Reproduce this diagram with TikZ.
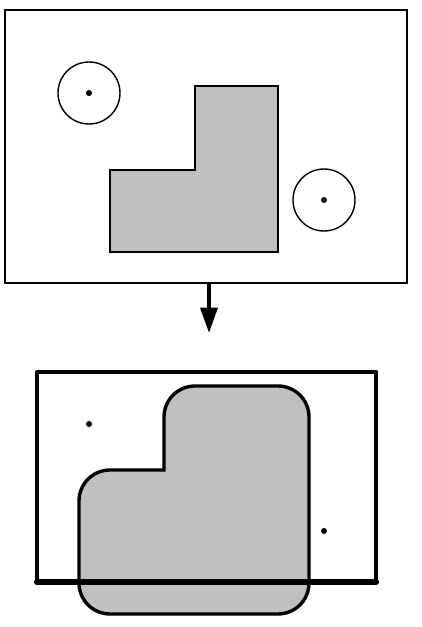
\documentclass[tikz,border=0pt]{standalone}
\usetikzlibrary{arrows.meta}
\definecolor{obst}{RGB}{192,192,192}
\begin{document}
\begin{tikzpicture}[x=0.025cm,y=0.025cm,
	dot/.style={fill=black},
	ring/.style={draw,line width=1pt},
	obstacle/.style={fill=obst,draw=black}]
				\useasboundingbox (0,0) rectangle (422,627);
				\draw[line width=1pt] (5,344) rectangle (407,617);
				\coordinate (ws) at (209,344);
				\coordinate (cs) at (209,294);
				\draw[obstacle,line width=1pt] (110,375) -- (278,375) -- (278,541) -- (195,541) -- (195,457) -- (110,457) -- cycle;
				\foreach \x/\y in {89/534,324/427}{
					\draw[ring] (\x,\y) circle (31);
					\fill[dot] (\x,\y) circle (3);
				}
				\draw[line width=2.8pt,-{Triangle[length=18pt,width=12pt]}] (ws) -- (cs);
				\draw[obstacle,line width=2.4pt] (79,44) -- (79,126) arc[start angle=180,end angle=90,radius=31] -- (164,157) -- (164,210) arc[start angle=180,end angle=90,radius=31] -- (278,241) arc[start angle=90,end angle=0,radius=31] -- (309,44) arc[start angle=0,end angle=-90,radius=31] -- (110,13) arc[start angle=270,end angle=180,radius=31] -- cycle;
				\draw[line width=3.4pt,line join=round] (37,45) rectangle (376,255);
				\draw[line width=4.4pt,line cap=round] (37,45) -- (376,45);
				\foreach \x/\y in {89/203,324/96}{
					\fill[dot] (\x,\y) circle (3);
				}
			\end{tikzpicture}
\end{document}
